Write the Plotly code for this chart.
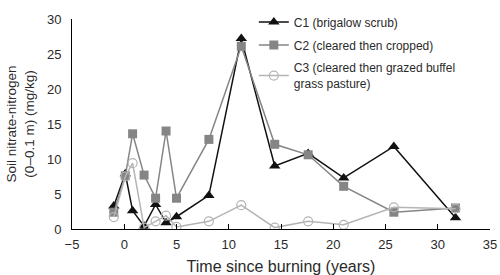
import plotly.graph_objects as go

years = [-1, 0.1, 0.8, 1.9, 3.0, 4.0, 5.0, 8.1, 11.2, 14.4, 17.6, 21.0, 25.8, 31.7]
c1 = [3.3, 7.9, 2.6, 0.4, 3.5, 0.9, 1.75, 4.8, 27.2, 9.0, 10.8, 7.3, 11.8, 1.6]
c2 = [2.4, 7.6, 13.6, 7.7, 4.4, 14.0, 4.4, 12.8, 26.1, 12.1, 10.6, 6.1, 2.4, 3.0]
c3 = [1.7, 7.5, 9.4, 0.2, 1.1, 1.9, 0.3, 1.1, 3.4, 0.2, 1.1, 0.6, 3.1, 2.9]

names = ["C1 (brigalow scrub)", "C2 (cleared then cropped)",
         "C3 (cleared then grazed buffel<br>grass pasture)"]
x_ticks = [-5, 0, 5, 10, 15, 20, 25, 30, 35]
y_ticks = [0, 5, 10, 15, 20, 25, 30]

font = "Liberation Sans, Arial, sans-serif"

fig = go.Figure()
fig.add_trace(go.Scatter(x=years, y=c1, name=names[0], mode="lines+markers", legendgroup="a",
                         line=dict(color="#111111", width=1.5),
                         marker=dict(symbol="triangle-up", size=10, color="#111111")))
fig.add_trace(go.Scatter(x=years, y=c2, name=names[1], mode="lines+markers", legendgroup="b",
                         line=dict(color="#858585", width=1.5),
                         marker=dict(symbol="square", size=9, color="#858585")))
fig.add_trace(go.Scatter(x=years, y=c3, name=names[2], mode="lines+markers", legendgroup="c",
                         line=dict(color="#b4b4b4", width=1.5),
                         marker=dict(symbol="circle-open", size=9, color="#b4b4b4",
                                     line=dict(width=1.2))))

fig.update_layout(
    width=500, height=275,
    margin=dict(l=72, r=10, t=7, b=46),
    paper_bgcolor="white", plot_bgcolor="white",
    font=dict(family=font, size=13, color="#2a2a2a"),
    showlegend=True,
    legend=dict(x=0.435, y=1.055, xanchor="left", yanchor="top",
                bgcolor="rgba(0,0,0,0)", font=dict(size=12),
                traceorder="grouped", tracegroupgap=4, itemwidth=30),
    xaxis=dict(range=[-5, 35], tickvals=x_ticks, automargin=False,
               ticktext=[("\u2212" + str(-v)) if v < 0 else str(v) for v in x_ticks],
               ticklabeloverflow="allow", ticklabelstandoff=3,
               showline=True, linecolor="black", linewidth=1,
               ticks="inside", ticklen=5, tickcolor="black",
               showgrid=False, zeroline=False,
               title=dict(text="Time since burning (years)", font=dict(size=16), standoff=10)),
    yaxis=dict(range=[0, 30], tickvals=y_ticks, automargin=False,
               ticklabeloverflow="allow",
               showline=True, linecolor="black", linewidth=1,
               ticks="", showgrid=False, zeroline=False, ticklabelstandoff=7,
               title=dict(text="Soil nitrate-nitrogen<br>(0\u20130.1 m) (mg/kg)",
                          font=dict(size=13.5), standoff=9)),
)

fig.write_html("out.html", config={"displayModeBar": False},
               post_script="document.body.style.margin='0';")
